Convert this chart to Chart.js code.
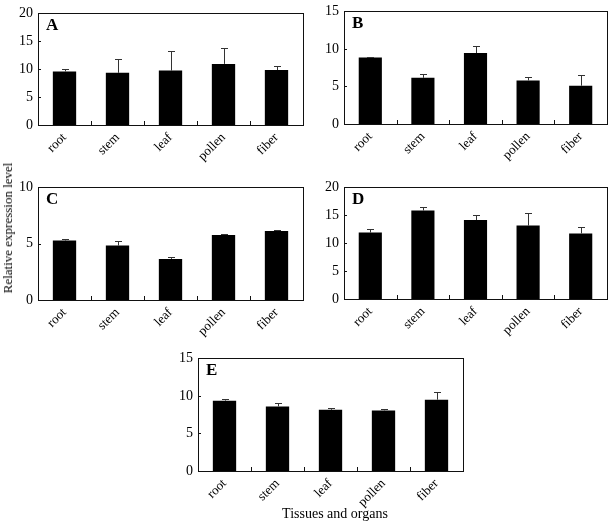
<!DOCTYPE html>
<html>
<head>
<meta charset="utf-8">
<script src="https://cdn.jsdelivr.net/npm/chart.js@4/dist/chart.umd.min.js"></script>
<style>
  body { margin: 0; background: #fff; }
  #wrap { position: relative; width: 610px; height: 521px; overflow: hidden; font-family: "Liberation Serif", serif; color: #000; }
  canvas { position: absolute; }
  .ytitle { position: absolute; left: 8px; top: 228px; transform: translate(-50%, -50%) rotate(-90deg); font-size: 13px; font-weight: normal; white-space: nowrap; }
  .xtitle { position: absolute; left: 335px; top: 514px; transform: translate(-50%, -50%); font-size: 14px; font-weight: normal; white-space: nowrap; }
</style>
</head>
<body>
<div id="wrap">
  <canvas id="chartA"></canvas>
  <canvas id="chartB"></canvas>
  <canvas id="chartC"></canvas>
  <canvas id="chartD"></canvas>
  <canvas id="chartE"></canvas>
  <div class="ytitle">Relative expression level</div>
  <div class="xtitle">Tissues and organs</div>
</div>
<script>
// data
const categories = ['root', 'stem', 'leaf', 'pollen', 'fiber'];

const valuesA = [9.6, 9.35, 9.75, 10.95, 9.85];
const errA = [0.45, 2.45, 3.6, 2.9, 0.7];
const valuesB = [8.85, 6.15, 9.45, 5.8, 5.1];
const errB = [0.1, 0.5, 1.0, 0.45, 1.4];
const valuesC = [5.28, 4.83, 3.65, 5.78, 6.12];
const errC = [0.11, 0.37, 0.17, 0.11, 0.1];
const valuesD = [11.9, 15.85, 14.15, 13.15, 11.75];
const errD = [0.7, 0.65, 0.9, 2.3, 1.1];
const valuesE = [9.37, 8.6, 8.15, 8.07, 9.5];
const errE = [0.25, 0.5, 0.2, 0.25, 1.0];

// panel boxes: chart area left, top, right, bottom
const panels = [
  { id: 'chartA', letter: 'A', values: valuesA, err: errA, max: 20, box: [38, 7, 303, 125] },
  { id: 'chartB', letter: 'B', values: valuesB, err: errB, max: 15, box: [344, 5, 607, 124] },
  { id: 'chartC', letter: 'C', values: valuesC, err: errC, max: 10, box: [38, 181, 303, 300] },
  { id: 'chartD', letter: 'D', values: valuesD, err: errD, max: 20, box: [344, 181, 607, 299] },
  { id: 'chartE', letter: 'E', values: valuesE, err: errE, max: 15, box: [198, 352, 463, 471] },
];

const Y_W = 38, X_H = 40, PAD_T = 7, PAD_R = 4;
const serif = '"Liberation Serif", "Times New Roman", serif';

// frame, inner ticks, error bars and panel letter
const panelPlugin = {
  id: 'panelDecor',
  afterDatasetsDraw(chart, args, opts) {
    const { ctx, chartArea: a, scales } = chart;
    const x = scales.x, y = scales.y;
    ctx.save();
    // error bars
    const meta = chart.getDatasetMeta(0);
    ctx.strokeStyle = '#333';
    ctx.lineWidth = 1;
    meta.data.forEach((bar, i) => {
      const v = opts.values[i], e = opts.err[i];
      const cx = Math.round(bar.x) + 0.5;
      const y0 = y.getPixelForValue(v);
      const y1 = Math.round(y.getPixelForValue(v + e)) + 0.5;
      ctx.beginPath();
      ctx.moveTo(cx, y0);
      ctx.lineTo(cx, y1);
      ctx.moveTo(cx - 3.5, y1);
      ctx.lineTo(cx + 3.5, y1);
      ctx.stroke();
    });
    // frame
    ctx.strokeStyle = '#111';
    ctx.strokeRect(Math.round(a.left) + 0.5, Math.round(a.top) + 0.5,
      Math.round(a.right - a.left), Math.round(a.bottom - a.top));
    // inner ticks on x (category boundaries)
    ctx.beginPath();
    for (let i = 0; i < categories.length - 1; i++) {
      const bx = Math.round((x.getPixelForTick(i) + x.getPixelForTick(i + 1)) / 2) + 0.5;
      ctx.moveTo(bx, a.bottom);
      ctx.lineTo(bx, a.bottom - 4);
    }
    // inner ticks on y
    y.ticks.forEach(t => {
      const ty = Math.round(y.getPixelForValue(t.value)) + 0.5;
      ctx.moveTo(a.left, ty);
      ctx.lineTo(a.left + 3, ty);
    });
    ctx.stroke();
    // panel letter
    ctx.fillStyle = '#000';
    ctx.font = 'bold 17px ' + serif;
    ctx.textBaseline = 'alphabetic';
    ctx.fillText(opts.letter, a.left + 8, a.top + 17);
    ctx.restore();
  }
};

panels.forEach(p => {
  const [l, t, r, b] = p.box;
  const cv = document.getElementById(p.id);
  const w = (r - l) + Y_W + PAD_R;
  const h = (b - t) + PAD_T + X_H;
  cv.width = w; cv.height = h;
  cv.style.width = w + 'px'; cv.style.height = h + 'px';
  cv.style.left = (l - Y_W) + 'px';
  cv.style.top = (t - PAD_T) + 'px';

  new Chart(cv.getContext('2d'), {
    type: 'bar',
    data: {
      labels: categories,
      datasets: [{
        data: p.values,
        backgroundColor: '#000',
        borderWidth: 0,
        barPercentage: 0.44,
        categoryPercentage: 1,
      }]
    },
    options: {
      responsive: false,
      animation: false,
      layout: { padding: { top: PAD_T, right: PAD_R, left: 0, bottom: 0 } },
      plugins: {
        legend: { display: false },
        tooltip: { enabled: false },
        panelDecor: { values: p.values, err: p.err, letter: p.letter },
      },
      scales: {
        x: {
          grid: { display: false, drawTicks: false },
          border: { display: true, color: '#000', width: 1 },
          ticks: {
            color: '#000',
            font: { family: serif, size: 13 },
            minRotation: 45,
            maxRotation: 45,
            padding: 5,
          },
          afterFit(scale) { scale.height = X_H; },
        },
        y: {
          min: 0,
          max: p.max,
          grid: { display: false, drawTicks: false },
          border: { display: true, color: '#000', width: 1 },
          ticks: {
            stepSize: 5,
            color: '#000',
            font: { family: serif, size: 14 },
            padding: 5,
          },
          afterFit(scale) { scale.width = Y_W; },
        }
      }
    },
    plugins: [panelPlugin]
  });
});
</script>
</body>
</html>
